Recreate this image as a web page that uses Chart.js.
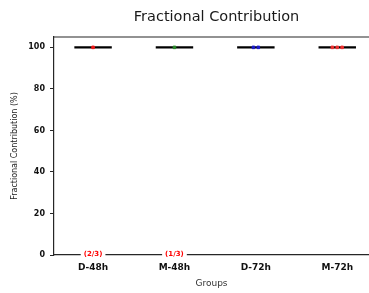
<!DOCTYPE html>
<html>
<head>
<meta charset="utf-8">
<script src="https://cdn.jsdelivr.net/npm/chart.js@4"></script>
<style>
  html, body { margin: 0; padding: 0; background: #fff; }
  #wrap { width: 369px; height: 293px; position: relative; }
</style>
</head>
<body>
<div id="wrap"><canvas id="chart" width="369" height="293"></canvas></div>
<script>
// groups on the x axis
const groups = ["D-48h", "M-48h", "D-72h", "M-72h"];
// replicate values per group (percent) and their horizontal jitter
const groupValues = [[100], [100], [100, 100], [100, 100, 100]];
const groupJitter = [[0], [0], [-0.03, 0.03], [-0.06, 0, 0.06]];
const groupColors = ["#f01818", "#2a8a2a", "#1c1ccc", "#f03030"];
const groupMedians = [100, 100, 100, 100];
// detection counts written at the bottom
const groupNotes = ["(2/3)", "(1/3)", "", ""];
const yTicks = [0, 20, 40, 60, 80, 100];
const chartTitle = "Fractional Contribution";

const halfWidth = 0.23;
const datasets = [];

// median bars
groups.forEach((g, i) => {
    datasets.push({
        type: "line",
        data: [{ x: i - halfWidth, y: groupMedians[i] }, { x: i + halfWidth, y: groupMedians[i] }],
        borderColor: "#000",
        borderWidth: 2.2,
        pointRadius: 0,
        order: 2
    });
});

// replicate points
groups.forEach((g, i) => {
    datasets.push({
        type: "scatter",
        data: groupValues[i].map((v, k) => ({ x: i + groupJitter[i][k], y: v })),
        backgroundColor: groupColors[i],
        borderColor: groupColors[i],
        pointRadius: 1.8,
        pointStyle: "rect",
        order: 1
    });
});

// title, top frame line and the bottom notes
const extras = {
    id: "extras",
    afterDraw(chart) {
        const ctx = chart.ctx;
        const a = chart.chartArea;
        ctx.save();
        ctx.fillStyle = "#1a1a1a";
        ctx.font = "14.5px 'DejaVu Sans'";
        ctx.textAlign = "center";
        ctx.textBaseline = "middle";
        ctx.fillText(chartTitle, (a.left + a.right) / 2 + 5, 17);

        ctx.strokeStyle = "#262626";
        ctx.lineWidth = 1.2;
        ctx.beginPath();
        ctx.moveTo(a.left, a.top);
        ctx.lineTo(a.right, a.top);
        ctx.stroke();

        const xs = chart.scales.x, ys = chart.scales.y;
        ctx.font = "bold 7px 'DejaVu Sans'";
        groupNotes.forEach((t, i) => {
            if (!t) return;
            const x = xs.getPixelForValue(i);
            const y = ys.getPixelForValue(0) - 1;
            const w = ctx.measureText(t).width;
            ctx.fillStyle = "#fff";
            ctx.fillRect(x - w / 2 - 3, y - 4, w + 6, 7);
            ctx.fillStyle = "#ff0000";
            ctx.fillText(t, x, y);
        });
        ctx.restore();
    }
};

new Chart(document.getElementById("chart"), {
    data: { datasets: datasets },
    plugins: [extras],
    options: {
        responsive: false,
        animation: false,
        layout: { autoPadding: false, padding: { top: 37, right: 0, bottom: 0, left: 0 } },
        plugins: {
            legend: { display: false },
            tooltip: { enabled: false },
            title: { display: false }
        },
        scales: {
            x: {
                type: "linear",
                min: -0.48,
                max: 3.39,
                afterBuildTicks(axis) {
                    axis.ticks = groups.map((g, i) => ({ value: i }));
                },
                afterFit(axis) { axis.height = 38; },
                ticks: {
                    callback: (v) => groups[v],
                    color: "#111",
                    font: { family: "DejaVu Sans", size: 9, weight: "bold" },
                    padding: 7,
                    maxRotation: 0
                },
                grid: { display: false, drawTicks: false },
                border: { color: "#262626", width: 1.2 },
                title: {
                    display: true,
                    text: "Groups",
                    color: "#333",
                    font: { family: "DejaVu Sans", size: 9 },
                    padding: { top: 4, bottom: 4 }
                }
            },
            y: {
                min: 0,
                max: 105,
                afterBuildTicks(axis) {
                    axis.ticks = yTicks.map((v) => ({ value: v }));
                },
                afterFit(axis) { axis.width = 54; },
                ticks: {
                    color: "#111",
                    font: { family: "DejaVu Sans", size: 8, weight: "bold" },
                    padding: 5
                },
                grid: { display: true, drawOnChartArea: false, drawTicks: true, tickLength: 4, color: "#262626", tickWidth: 1 },
                border: { color: "#262626", width: 1.2 },
                title: {
                    display: true,
                    text: "Fractional Contribution (%)",
                    color: "#222",
                    font: { family: "DejaVu Sans", size: 8 },
                    padding: { top: 10, bottom: 12 }
                }
            }
        }
    }
});
</script>
</body>
</html>
